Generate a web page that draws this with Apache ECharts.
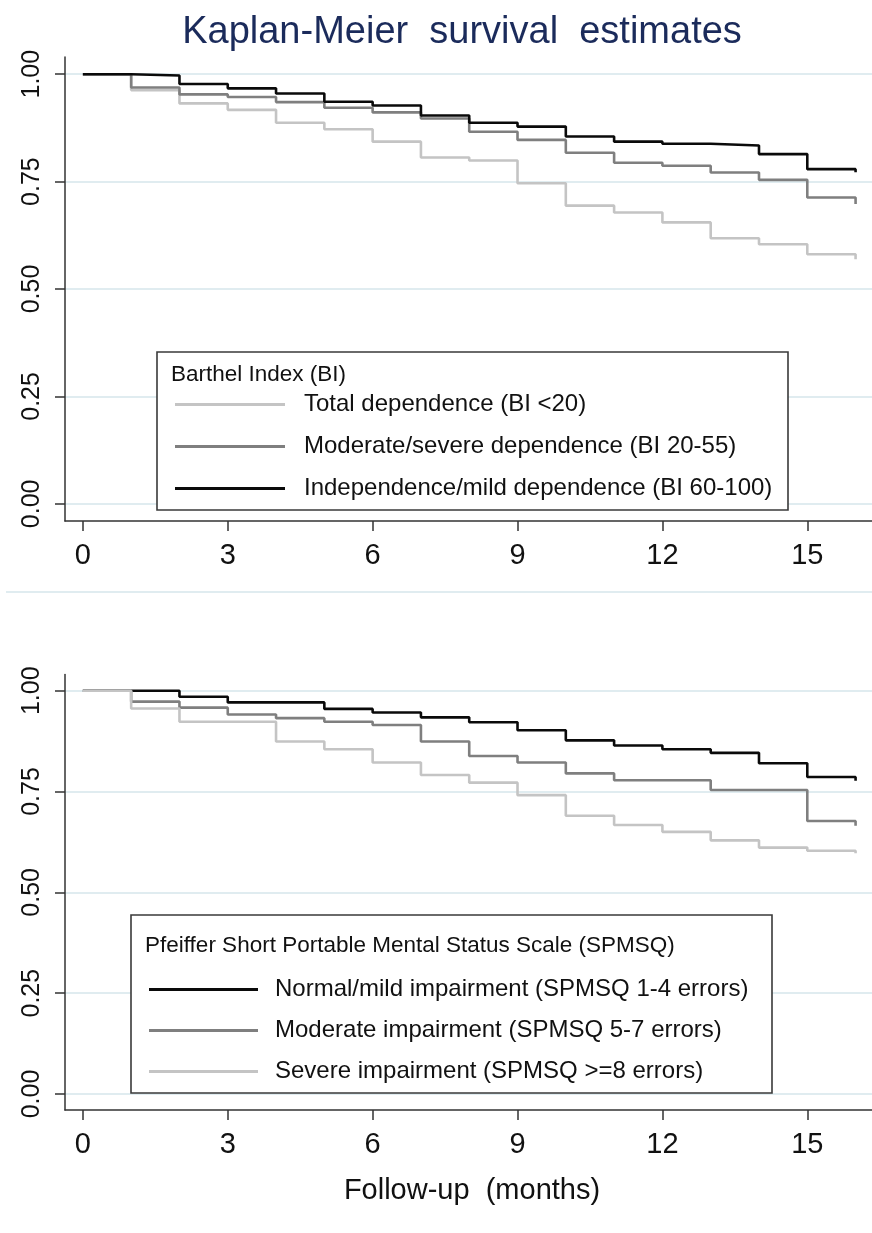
<!DOCTYPE html>
<html>
<head>
<meta charset="utf-8">
<script src="https://cdn.jsdelivr.net/npm/echarts@6/dist/echarts.min.js"></script>
<style>
  html, body { margin: 0; padding: 0; background: #ffffff; }
  #chart { width: 872px; height: 1233px; }
</style>
</head>
<body>
<div id="chart"></div>
<script>
// ---- Data ----
const months = [0, 1, 2, 3, 4, 5, 6, 7, 8, 9, 10, 11, 12, 13, 14, 15, 16];
const xTicks = [0, 3, 6, 9, 12, 15];
const yTicks = [0, 0.25, 0.5, 0.75, 1];

// Top panel: Barthel Index
const biNames = [
  'Total dependence (BI <20)',
  'Moderate/severe dependence (BI 20-55)',
  'Independence/mild dependence (BI 60-100)'
];
const biTotal    = [1.00, 0.963, 0.932, 0.917, 0.887, 0.872, 0.843, 0.806, 0.799, 0.746, 0.694, 0.678, 0.655, 0.618, 0.604, 0.581, 0.569];
const biModerate = [1.00, 0.969, 0.953, 0.947, 0.935, 0.922, 0.911, 0.897, 0.866, 0.847, 0.817, 0.794, 0.787, 0.771, 0.754, 0.713, 0.698];
const biIndep    = [1.00, 0.997, 0.977, 0.967, 0.955, 0.936, 0.927, 0.904, 0.887, 0.878, 0.855, 0.843, 0.838, 0.834, 0.814, 0.779, 0.772];

// Bottom panel: SPMSQ
const spNames = [
  'Normal/mild impairment (SPMSQ 1-4 errors)',
  'Moderate impairment (SPMSQ 5-7 errors)',
  'Severe impairment (SPMSQ >=8 errors)'
];
const spNormal   = [1.00, 1.00, 0.985, 0.971, 0.971, 0.955, 0.946, 0.934, 0.922, 0.902, 0.877, 0.864, 0.855, 0.846, 0.820, 0.786, 0.777];
const spModerate = [1.00, 0.973, 0.958, 0.941, 0.932, 0.923, 0.915, 0.874, 0.838, 0.822, 0.795, 0.778, 0.778, 0.754, 0.754, 0.677, 0.665];
const spSevere   = [1.00, 0.956, 0.923, 0.923, 0.874, 0.855, 0.822, 0.791, 0.772, 0.741, 0.690, 0.667, 0.650, 0.629, 0.611, 0.603, 0.597];

const titleText = 'Kaplan-Meier  survival  estimates';
const xTitleText = 'Follow-up  (months)';
const biLegendTitle = 'Barthel Index (BI)';
const spLegendTitle = 'Pfeiffer Short Portable Mental Status Scale (SPMSQ)';

// ---- Styles ----
const FONT = '"Liberation Sans", Arial, sans-serif';
const C_LIGHT = '#c4c4c4';
const C_MID = '#7f7f7f';
const C_DARK = '#0a0a0a';
const GRID_C = '#e0ecf0';

function pairs(vals) { return months.map((m, i) => [m, vals[i]]); }

function xAxisCfg(gridIndex) {
  return {
    type: 'value', gridIndex, min: -0.37, max: 16.34,
    axisLine: { show: true, onZero: false, lineStyle: { color: '#333', width: 1.5 } },
    axisTick: { show: true, length: 10, customValues: xTicks, lineStyle: { color: '#333', width: 1.5 } },
    axisLabel: { customValues: xTicks, fontSize: 29, color: '#111', fontFamily: FONT, margin: 20 },
    splitLine: { show: false }
  };
}
function yAxisCfg(gridIndex) {
  return {
    type: 'value', gridIndex, min: -0.04, max: 1.04,
    axisLine: { show: true, onZero: false, lineStyle: { color: '#333', width: 1.5 } },
    axisTick: { show: true, length: 10, customValues: yTicks, lineStyle: { color: '#333', width: 1.5 } },
    axisLabel: { customValues: yTicks, rotate: 90, fontSize: 25, color: '#111', fontFamily: FONT, margin: 20,
                 formatter: v => v.toFixed(2) },
    splitLine: { show: true, lineStyle: { color: GRID_C, width: 2 } }
  };
}
function kmSeries(name, vals, color, idx, z) {
  return {
    type: 'line', name, data: pairs(vals), step: 'end',
    xAxisIndex: idx, yAxisIndex: idx,
    showSymbol: false, symbol: 'none', color,
    lineStyle: { color, width: 2.6 }, z, silent: true
  };
}

const chart = echarts.init(document.getElementById('chart'), null, { renderer: 'canvas' });
chart.setOption({
  animation: false,
  backgroundColor: '#ffffff',
  grid: [
    { left: 65, top: 57, width: 807, height: 464, containLabel: false },
    { left: 65, top: 674.6, width: 807, height: 435.5, containLabel: false }
  ],
  xAxis: [xAxisCfg(0), xAxisCfg(1)],
  yAxis: [yAxisCfg(0), yAxisCfg(1)],
  legend: [
    {
      data: biNames, left: 170, top: 386, orient: 'vertical',
      icon: 'rect', itemWidth: 110, itemHeight: 3, itemGap: 15, selectedMode: false, z: 10,
      textStyle: { fontSize: 24, fontFamily: FONT, color: '#111', lineHeight: 27, padding: [0, 0, 0, 14] }
    },
    {
      data: spNames, left: 144, top: 971, orient: 'vertical',
      icon: 'rect', itemWidth: 109, itemHeight: 3, itemGap: 14, selectedMode: false, z: 10,
      textStyle: { fontSize: 24, fontFamily: FONT, color: '#111', lineHeight: 27, padding: [0, 0, 0, 12] }
    }
  ],
  series: [
    kmSeries(biNames[0], biTotal, C_LIGHT, 0, 2),
    kmSeries(biNames[1], biModerate, C_MID, 0, 3),
    kmSeries(biNames[2], biIndep, C_DARK, 0, 4),
    kmSeries(spNames[0], spNormal, C_DARK, 1, 2),
    kmSeries(spNames[1], spModerate, C_MID, 1, 3),
    kmSeries(spNames[2], spSevere, C_LIGHT, 1, 4)
  ],
  graphic: [
    { type: 'text', x: 462, y: 33, z: 10,
      style: { text: titleText, fontSize: 38, fontFamily: FONT, fill: '#1b2b5b', align: 'center', verticalAlign: 'middle' } },
    { type: 'line', z: 1, shape: { x1: 6, y1: 592, x2: 872, y2: 592 },
      style: { stroke: GRID_C, lineWidth: 2 } },
    { type: 'rect', z: 8, shape: { x: 157, y: 352, width: 631, height: 158 },
      style: { fill: '#ffffff', stroke: '#3a3a3a', lineWidth: 1.6 } },
    { type: 'text', z: 10, x: 171, y: 375,
      style: { text: biLegendTitle, fontSize: 22.5, fontFamily: FONT, fill: '#111', verticalAlign: 'middle' } },
    { type: 'rect', z: 8, shape: { x: 131, y: 915, width: 641, height: 178 },
      style: { fill: '#ffffff', stroke: '#3a3a3a', lineWidth: 1.6 } },
    { type: 'text', z: 10, x: 145, y: 946,
      style: { text: spLegendTitle, fontSize: 22.5, fontFamily: FONT, fill: '#111', verticalAlign: 'middle' } },
    { type: 'text', z: 10, x: 472, y: 1191,
      style: { text: xTitleText, fontSize: 29, fontFamily: FONT, fill: '#111', align: 'center', verticalAlign: 'middle' } }
  ]
});
</script>
</body>
</html>
